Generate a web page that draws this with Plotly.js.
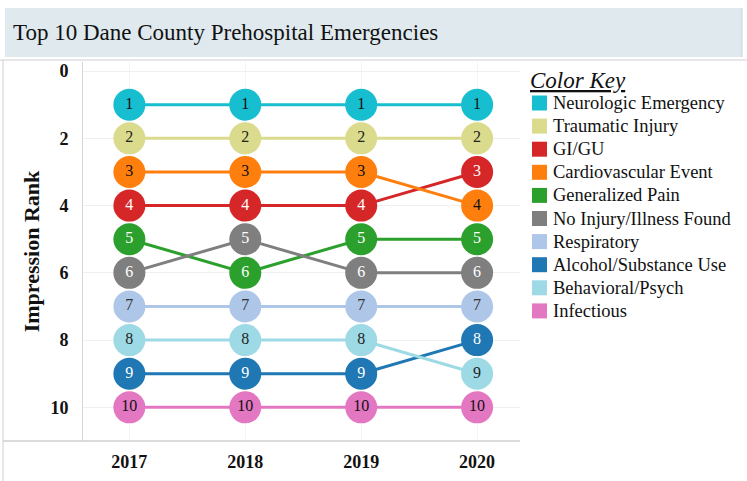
<!DOCTYPE html>
<html><head><meta charset="utf-8">
<script src="https://cdn.plot.ly/plotly-3.0.1.min.js"></script>
<style>html,body{margin:0;padding:0;background:#fff;}#chart{width:747px;height:481px;}</style>
</head><body><div id="chart"></div>
<script>
const years = ['2017','2018','2019','2020'];
const categories = ['Neurologic Emergency','Traumatic Injury','GI/GU','Cardiovascular Event','Generalized Pain','No Injury/Illness Found','Respiratory','Alcohol/Substance Use','Behavioral/Psych','Infectious'];
const neurologic = [1,1,1,1];
const traumatic = [2,2,2,2];
const giGu = [4,4,4,3];
const cardio = [3,3,3,4];
const genPain = [5,6,5,5];
const noInjury = [6,5,6,6];
const respiratory = [7,7,7,7];
const alcohol = [9,9,9,8];
const behavioral = [8,8,8,9];
const infectious = [10,10,10,10];
const yTicks = [0,2,4,6,8,10];

const series = [neurologic,traumatic,giGu,cardio,genPain,noInjury,respiratory,alcohol,behavioral,infectious];
const colors = ['#17becf','#dbdb8d','#d62728','#ff7f0e','#2ca02c','#7f7f7f','#aec7e8','#1f77b4','#9edae5','#e377c2'];
const textColors = ['#111','#222','#fff','#111','#fff','#fff','#333','#fff','#222','#111'];

const serif = 'Liberation Serif, Times New Roman, serif';
const traces = series.map((vals,i)=>({
  x: years, y: vals, name: categories[i], type:'scatter', mode:'lines+markers+text',
  text: vals.map(String), textposition:'middle center',
  textfont:{family:serif, size:16, color:textColors[i]},
  line:{color:colors[i], width:3},
  marker:{color:colors[i], size:32, line:{width:0}},
  cliponaxis:false, hoverinfo:'none', showlegend:false
}));

const L=83, R=520, T=62, B=441;
const W=R-L, H=B-T;
const px = v => (v-L)/W;
const py = v => (B-v)/H;

const shapes = [
  {type:'rect', xref:'paper', yref:'paper', x0:px(5), x1:px(742), y0:py(57), y1:py(8), fillcolor:'#dfe9ee', line:{width:0}, layer:'below'},
  {type:'line', xref:'paper', yref:'paper', x0:px(742), x1:px(742), y0:py(57), y1:py(8), line:{color:'#c9d2d6', width:1}},
  {type:'line', xref:'paper', yref:'paper', x0:px(0), x1:px(747), y0:py(60), y1:py(60), line:{color:'#d0d0d0', width:1}},
  {type:'line', xref:'paper', yref:'paper', x0:px(3), x1:px(3), y0:py(60), y1:py(481), line:{color:'#d0d0d0', width:1}},
  {type:'line', xref:'paper', yref:'paper', x0:px(3), x1:px(R), y0:0, y1:0, line:{color:'#cfcfcf', width:1.5}}
];
const annotations = [
  {xref:'paper', yref:'paper', x:px(11), y:py(33), xanchor:'left', yanchor:'middle', showarrow:false,
   text:'Top 10 Dane County Prehospital Emergencies', font:{family:serif, size:23, color:'#111'}},
  {xref:'paper', yref:'paper', x:px(528), y:py(80), xanchor:'left', yanchor:'middle', showarrow:false,
   text:'<i><u>Color Key</u></i>', font:{family:serif, size:23, color:'#111'}}
];
categories.forEach((c,i)=>{
  const cy = 103 + i*23.1;
  shapes.push({type:'rect', xref:'paper', yref:'paper', x0:px(532), x1:px(547), y0:py(cy+7.5), y1:py(cy-7.5), fillcolor:colors[i], line:{width:0}});
  annotations.push({xref:'paper', yref:'paper', x:px(551), y:py(cy), xanchor:'left', yanchor:'middle', showarrow:false,
    text:c, font:{family:serif, size:18.5, color:'#111'}});
});

const layout = {
  width:747, height:481,
  margin:{l:L, r:747-R, t:T, b:481-B, pad:0},
  paper_bgcolor:'#fff', plot_bgcolor:'#fff',
  showlegend:false,
  xaxis:{type:'category', range:[-0.4,3.37], showgrid:true, gridcolor:'#f4f4f4', zeroline:false, showline:false,
    ticks:'', tickfont:{family:serif, size:18, color:'#111', weight:'bold'}, ticklabelstandoff:8},
  yaxis:{range:[11,-0.27], tickvals:yTicks, ticktext:yTicks.map(String), showgrid:true, gridcolor:'#efefef', zeroline:false,
    showline:true, linecolor:'#d5d5d5', linewidth:1, ticks:'', ticklabelstandoff:10,
    tickfont:{family:serif, size:18, color:'#111', weight:'bold'},
    title:{text:'Impression Rank', font:{family:serif, size:22, color:'#111', weight:'bold'}, standoff:4}},
  shapes, annotations
};
Plotly.newPlot('chart', traces, layout, {staticPlot:true, displayModeBar:false});
</script></body></html>
